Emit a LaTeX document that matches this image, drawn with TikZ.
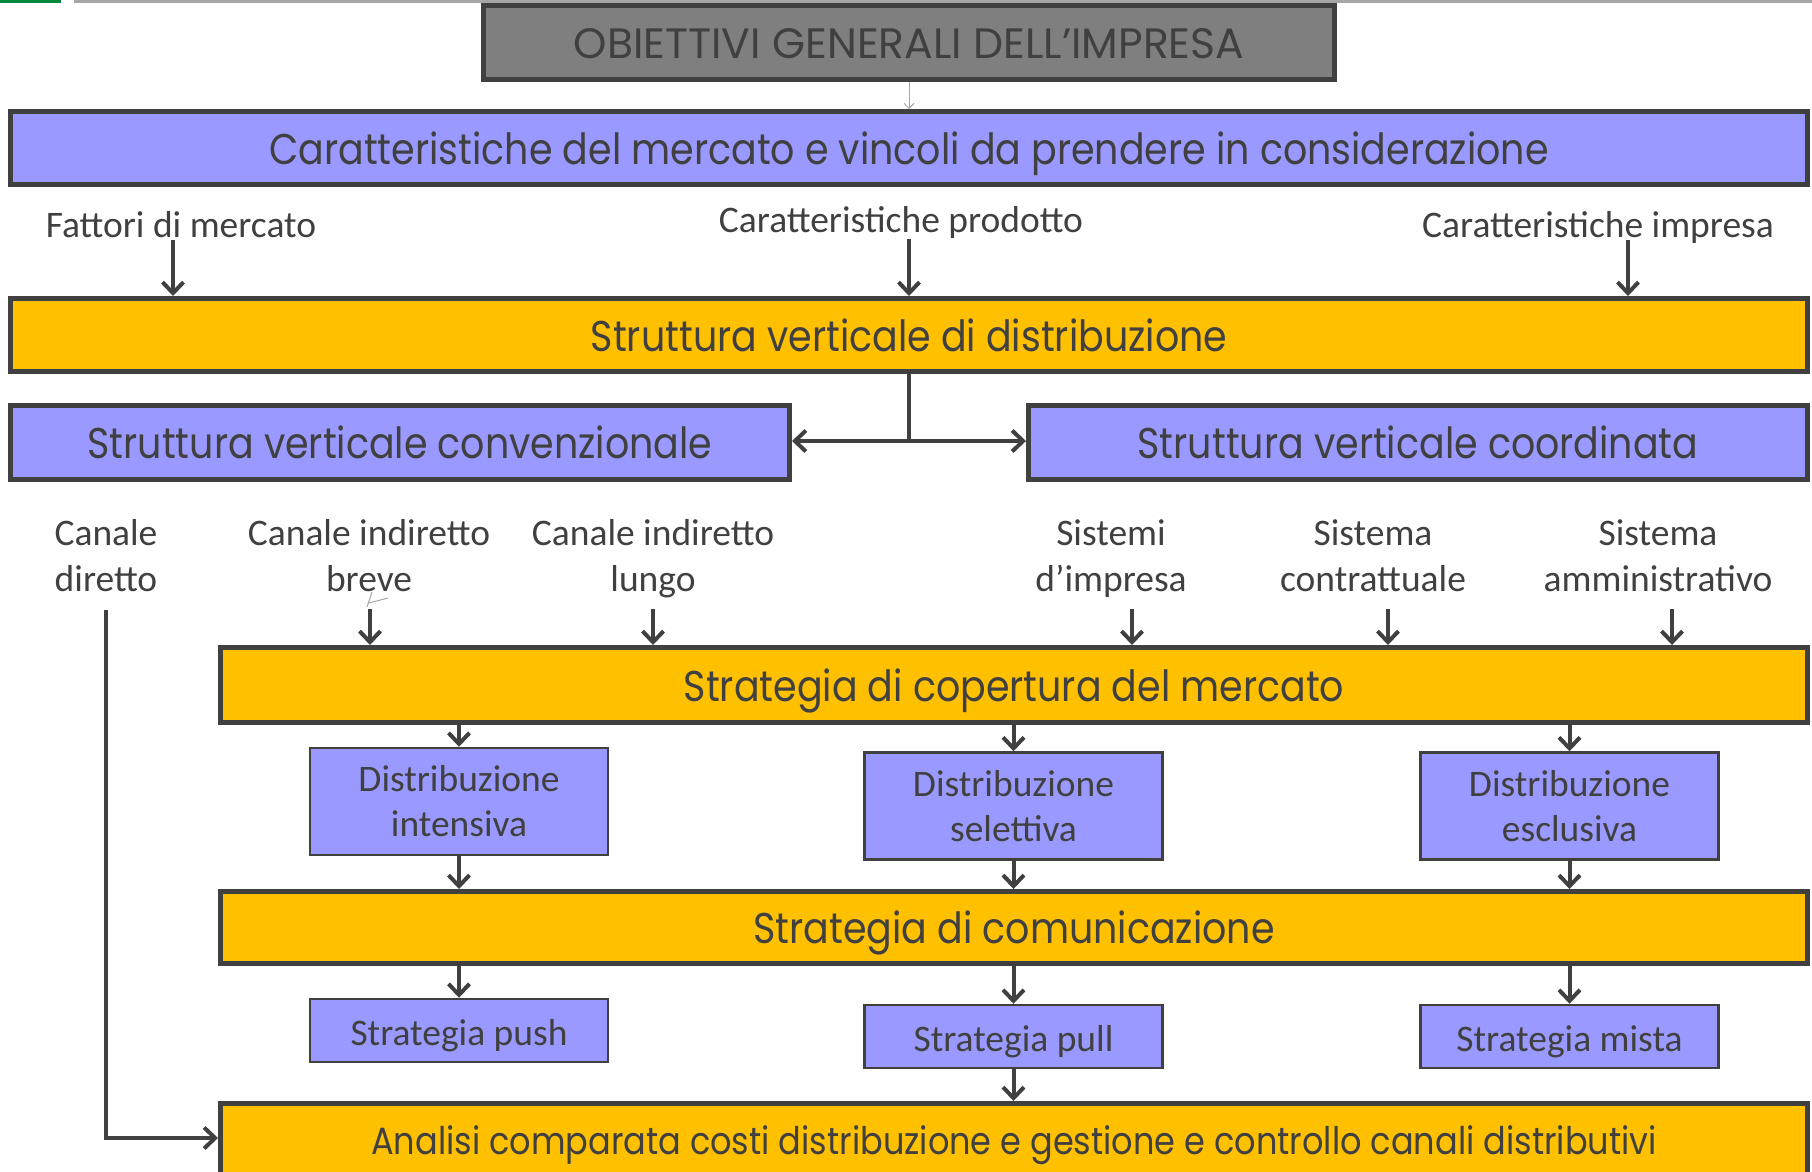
\documentclass[tikz,border=0pt]{standalone}
\usepackage{fontspec}
\setmainfont{Carlito}
\newfontfamily\fut[FakeStretch=0.883]{Poppins}
\newfontfamily\futw{Poppins}
\usetikzlibrary{arrows.meta}
\definecolor{dk}{HTML}{404040}
\definecolor{bl}{HTML}{9999FF}
\definecolor{orng}{HTML}{FFC000}
\definecolor{gy}{HTML}{7F7F7F}
\definecolor{lg}{HTML}{A6A6A6}
\definecolor{grn}{HTML}{00873E}
\begin{document}
\begin{tikzpicture}[x=1pt,y=-1pt,
  bigbox/.style={draw=dk, line width=5pt, inner sep=0pt, text=dk, text height=32pt, text depth=0pt, font=\fut\fontsize{43}{50}\selectfont},
  smallbox/.style={draw=dk, line width=2.5pt, fill=bl, inner sep=0pt, text=dk, align=center, font=\fontsize{37.5}{45}\selectfont, minimum width=298pt},
  onel/.style={text height=30pt, text depth=0pt},
  lbl/.style={text=dk, align=center, font=\fontsize{37.5}{46}\selectfont, inner sep=0pt},
  arr/.style={draw=dk, line width=4pt, -{Straight Barb[length=11pt,width=21pt]}},
  ln/.style={draw=dk, line width=4pt},
]
\useasboundingbox (0,0) rectangle (1812,1171);
% top strip
\fill[grn] (0,0) rectangle (61,3);
\fill[lg] (74,0) rectangle (1812,3);

\node[bigbox, fill=gy, minimum width=851pt, minimum height=74pt, font=\futw\fontsize{42.5}{48}\selectfont] (obj) at (909,42.5) {OBIETTIVI GENERALI DELL’IMPRESA};
\node[bigbox, fill=bl, minimum width=1797pt, minimum height=73pt] (car) at (909,148) {Caratteristiche del mercato e vincoli da prendere in considerazione};
\draw[lg, line width=1pt, -{Straight Barb[length=5pt,width=10pt]}] (obj.south) -- (car.north);

\node[lbl] (fat) at (181,225) {Fattori di mercato};
\node[lbl] (cpr) at (901,222.5) {Caratteristiche prodotto};
\node[lbl] (cim) at (1598,227) {Caratteristiche impresa};

\node[bigbox, fill=orng, minimum width=1797pt, minimum height=73pt] (svd) at (909,335) {Struttura verticale di distribuzione};
\coordinate (a1) at (173,240);
\coordinate (a2) at (909,239);
\coordinate (a3) at (1628,240);
\draw[arr] (a1) -- (a1 |- svd.north);
\draw[arr] (a2) -- (a2 |- svd.north);
\draw[arr] (a3) -- (a3 |- svd.north);

\node[bigbox, fill=bl, minimum width=779pt, minimum height=74pt] (svconv) at (400,442.5) {Struttura verticale convenzionale};
\node[bigbox, fill=bl, minimum width=779pt, minimum height=74pt] (svcoord) at (1418,442.5) {Struttura verticale coordinata};
\coordinate (j) at (909,441);
\draw[ln] (svd.south) -- (j);
\draw[arr] (j) -- (j -| svconv.east);
\draw[arr] (j) -- (j -| svcoord.west);

\node[lbl] (cd) at (106,556) {Canale\\diretto};
\node[lbl] (cib) at (369,556) {Canale indiretto\\breve};
\node[lbl] (cil) at (653,558.5) {Canale indiretto\\lungo};
\node[lbl] (sdi) at (1111,558.5) {Sistemi\\d’impresa};
\node[lbl] (sco) at (1373,556) {Sistema\\contrattuale};
\node[lbl] (sam) at (1658,556) {Sistema\\amministrativo};
\draw[lg, line width=1pt] (372,592) -- (367,607) (369,603) -- (388,598);

\node[bigbox, fill=orng, minimum width=1587pt, minimum height=75pt] (scm) at (1014,685) {Strategia di copertura del mercato};
\coordinate (b1) at (370,609);
\coordinate (b2) at (653,609);
\coordinate (b3) at (1132,609);
\coordinate (b4) at (1388,609);
\coordinate (b5) at (1672,609);
\foreach \c in {b1,b2,b3,b4,b5} \draw[arr] (\c) -- (\c |- scm.north);

\node[smallbox, minimum height=107pt] (di) at (459,801.5) {Distribuzione\\intensiva};
\node[smallbox, minimum height=107pt] (ds) at (1013.5,806) {Distribuzione\\selettiva};
\node[smallbox, minimum height=107pt] (de) at (1569.5,806) {Distribuzione\\esclusiva};
\foreach \n in {di,ds,de} \draw[arr] (\n.north |- scm.south) -- (\n.north);

\node[bigbox, fill=orng, minimum width=1587pt, minimum height=72pt] (sc) at (1014,927.5) {Strategia di comunicazione};
\foreach \n in {di,ds,de} \draw[arr] (\n.south) -- (\n.south |- sc.north);

\node[smallbox, onel, minimum height=63pt] (sp) at (459,1030.5) {Strategia push};
\node[smallbox, onel, minimum height=63pt] (spl) at (1013.5,1036.5) {Strategia pull};
\node[smallbox, onel, minimum height=63pt] (sm) at (1569.5,1036.5) {Strategia mista};
\foreach \n in {sp,spl,sm} \draw[arr] (\n.north |- sc.south) -- (\n.north);

\node[bigbox, fill=orng, minimum width=1587pt, minimum height=140pt, anchor=north] (an) at (1014,1101) {};
\node[text=dk, inner sep=0pt, text height=32pt, text depth=0pt, font=\fut\fontsize{38}{42}\selectfont] (anl) at (1014,1138) {Analisi comparata costi distribuzione e gestione e controllo canali distributivi};
\draw[arr] (spl.south) -- (an.north -| spl.south);

\coordinate (cdt) at (106,610);
\draw[arr] (cdt) -- (106,1138) -- (106,1138 -| an.west);
\end{tikzpicture}
\end{document}
